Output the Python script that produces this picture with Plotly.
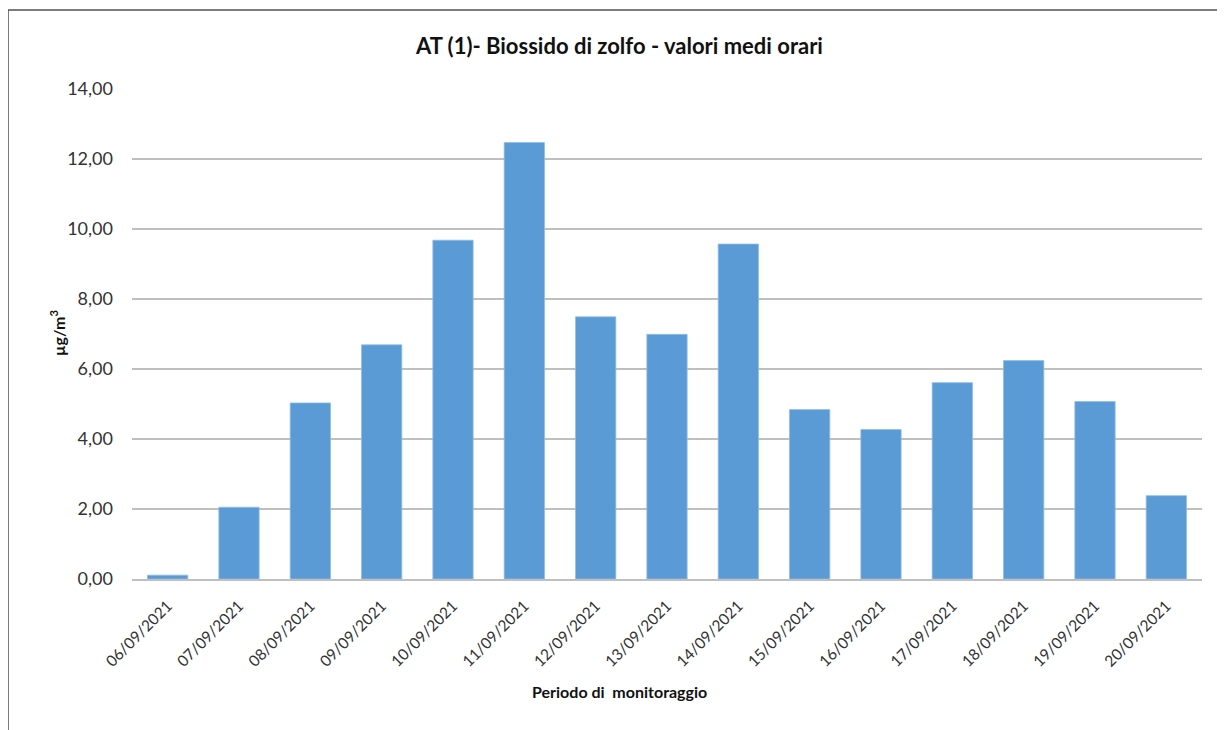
import plotly.graph_objects as go

dates = ["06/09/2021", "07/09/2021", "08/09/2021", "09/09/2021", "10/09/2021",
         "11/09/2021", "12/09/2021", "13/09/2021", "14/09/2021", "15/09/2021",
         "16/09/2021", "17/09/2021", "18/09/2021", "19/09/2021", "20/09/2021"]
so2_values = [0.11, 2.05, 5.03, 6.69, 9.68, 12.47, 7.49, 6.99, 9.57, 4.84,
              4.27, 5.61, 6.24, 5.07, 2.38]
y_tick_vals = [0, 2, 4, 6, 8, 10, 12, 14]
y_tick_text = ["0,00", "2,00", "4,00", "6,00", "8,00", "10,00", "12,00", "14,00"]

title_text = "AT (1)- Biossido di zolfo - valori medi orari"
x_title = "Periodo di  monitoraggio"
y_title = "µg/m<sup>3</sup>"

OFF = 8  # page body margin
W, H = 1225 - OFF, 730 - OFF
L, R, T, B = 132 - OFF, 23, 89 - OFF, 151
pw = W - L - R
ph = H - T - B

def px_x(p):
    return (p - OFF - L) / pw

def px_y(p):
    return (H - B - (p - OFF)) / ph

FONT = "Lato, 'Open Sans', sans-serif"

fig = go.Figure()
fig.add_trace(go.Bar(
    x=dates, y=so2_values,
    marker=dict(color="#5B9BD5", line=dict(color="#8FBCE6", width=0.8)),
    width=0.565,
))

fig.update_layout(
    width=W, height=H,
    margin=dict(l=L, r=R, t=T, b=B, pad=0),
    paper_bgcolor="white", plot_bgcolor="white",
    showlegend=False,
    font=dict(family=FONT, color="#404040"),
    xaxis=dict(
        type="category", tickangle=-45,
        tickfont=dict(size=15.5, color="#333333", family=FONT),
        showgrid=False, showline=True, linecolor="#BFBFBF", linewidth=1.5,
        ticks="", ticklabelstandoff=10,
    ),
    yaxis=dict(
        range=[0, 14], tickvals=y_tick_vals, ticktext=y_tick_text,
        tickfont=dict(size=18, color="#333333", family=FONT),
        showgrid=True, gridcolor="#BFBFBF", gridwidth=1.5,
        zeroline=False, showline=False, ticks="", ticklabelstandoff=18,
        fixedrange=True,
    ),
    shapes=[
        dict(type="line", xref="paper", yref="paper",
             x0=px_x(8), x1=px_x(1240), y0=px_y(10), y1=px_y(10),
             line=dict(color="#505050", width=1.5)),
        dict(type="line", xref="paper", yref="paper",
             x0=px_x(8), x1=px_x(8), y0=px_y(10), y1=px_y(740),
             line=dict(color="#505050", width=1.5)),
    ],
    annotations=[
        dict(text="<b>" + title_text + "</b>", xref="paper", yref="paper",
             x=px_x(619), y=px_y(45), xanchor="center", yanchor="middle",
             showarrow=False, font=dict(size=22, color="#111111", family=FONT)),
        dict(text="<b>" + x_title + "</b>", xref="paper", yref="paper",
             x=px_x(619), y=px_y(692), xanchor="center", yanchor="middle",
             showarrow=False, font=dict(size=16, color="#111111", family=FONT)),
        dict(text="<b>" + y_title + "</b>", xref="paper", yref="paper",
             x=px_x(57), y=px_y(333), xanchor="center", yanchor="middle",
             textangle=-90, showarrow=False,
             font=dict(size=16, color="#111111", family=FONT)),
    ],
)

fig.write_html("out.html")
